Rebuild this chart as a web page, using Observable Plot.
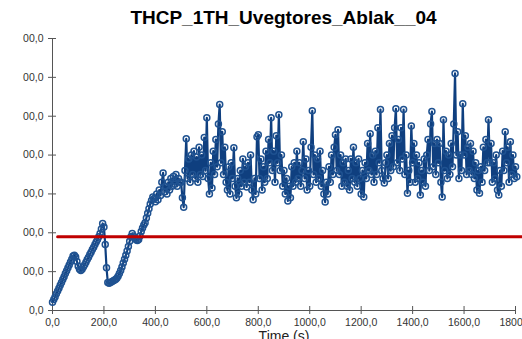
<!DOCTYPE html>
<html>
<head>
<meta charset="utf-8">
<script src="https://cdn.jsdelivr.net/npm/d3@7"></script>
<script src="https://cdn.jsdelivr.net/npm/@observablehq/plot@0.6"></script>
<style>
  html, body { margin: 0; padding: 0; background: white; }
  body { width: 522px; height: 339px; overflow: hidden; font-family: "Liberation Sans", Arial, sans-serif; }
  #title { padding-top: 7px; height: 22px; line-height: 22px; margin-left: 52px; width: 463px; text-align: center; font-weight: bold; font-size: 19px; color: #000; white-space: nowrap; }
</style>
</head>
<body>
<div id="title"></div>
<div id="chart"></div>
<script>
const chartTitle = "THCP_1TH_Uvegtores_Ablak__04";
const xLabel = "Time (s)";
const sampleStep = 5; // seconds between samples
const values = [
  21,28,35,43,50,57,65,72,80,87,95,102,110,117,125,132,140,142,138,126,
  114,106,103,106,112,118,124,131,137,144,150,157,163,170,176,183,190,198,210,224,
  215,170,110,72,70,72,74,76,78,80,83,88,95,103,112,122,132,142,153,165,
  178,190,198,192,186,182,180,183,192,203,212,220,226,238,250,262,274,283,292,288,
  280,300,285,310,296,330,354,305,320,300,330,310,340,320,345,325,350,320,340,330,
  330,290,266,360,442,340,390,330,400,350,410,340,395,330,420,350,400,345,445,360,
  496,340,300,380,315,410,350,440,370,480,530,380,460,350,420,330,310,370,300,380,
  340,419,320,290,340,300,360,320,390,330,370,318,380,330,400,310,285,340,300,447,
  452,340,390,310,370,330,410,340,440,380,496,360,410,330,450,380,504,360,400,320,
  360,300,340,282,320,290,370,320,380,330,410,340,380,320,360,434,340,390,310,360,
  320,420,514,350,400,330,390,340,410,320,360,300,279,330,300,370,330,400,350,420,
  452,360,465,350,400,320,380,330,390,320,360,310,390,340,420,330,380,320,390,340,
  300,360,292,380,340,430,360,455,350,400,330,410,350,470,380,517,360,340,328,380,
  400,340,430,360,450,370,470,519,380,440,360,470,390,517,350,400,302,360,330,475,
  380,430,330,400,340,380,297,360,330,390,320,400,440,360,480,512,370,430,350,440,
  380,430,330,292,491,360,410,340,400,350,430,370,480,610,400,460,340,400,360,532,
  400,450,350,420,360,430,350,410,340,380,310,360,302,370,330,420,360,440,380,491,
  380,430,330,380,340,400,310,297,360,320,410,360,460,380,420,330,434,350,400,340,370,344
];
const xTicks = [0, 200, 400, 600, 800, 1000, 1200, 1400, 1600, 1800];
const yTicks = [0, 100, 200, 300, 400, 500, 600, 700];
const yTickLabels = ["0,0", "00,0", "00,0", "00,0", "00,0", "00,0", "00,0", "00,0"];
const refLevel = 190;
const refTimes = [20, 1830];

const series = values.map((v, i) => ({t: i * sampleStep, v}));
const refData = refTimes.map(t => ({t, v: refLevel}));

document.getElementById("title").textContent = chartTitle;

const chart = Plot.plot({
  width: 522,
  height: 320,
  marginTop: 9,
  marginBottom: 39,
  marginLeft: 52,
  marginRight: 7,
  x: {domain: [0, 1800]},
  y: {domain: [0, 700]},
  style: {fontFamily: "'Liberation Sans', Arial, sans-serif", fontSize: "10.5px", color: "#333", background: "white", overflow: "visible"},
  marks: [
    Plot.ruleX([0], {stroke: "#555", strokeWidth: 1}),
    Plot.ruleY([0], {stroke: "#555", strokeWidth: 1}),
    Plot.axisY(yTicks, {tickSize: 8, dx: 4, tickPadding: 5, stroke: "#555", tickFormat: d => yTickLabels[yTicks.indexOf(d)], label: null}),
    Plot.axisX(xTicks, {tickSize: 8, dy: -4, tickPadding: 4, stroke: "#555", tickFormat: d => d.toFixed(1).replace(".", ","), label: null}),
    Plot.line(series, {x: "t", y: "v", stroke: "#0f3f7f", strokeWidth: 2.2}),
    Plot.dot(series, {x: "t", y: "v", r: 3, stroke: "#1f5291", strokeWidth: 1.5, fill: "none"}),
    Plot.line(refData, {x: "t", y: "v", stroke: "#c00000", strokeWidth: 3}),
    Plot.text([xLabel], {frameAnchor: "bottom", lineAnchor: "top", dy: 21, fontSize: 14, fill: "#222"})
  ]
});
document.getElementById("chart").appendChild(chart);
</script>
</body>
</html>
